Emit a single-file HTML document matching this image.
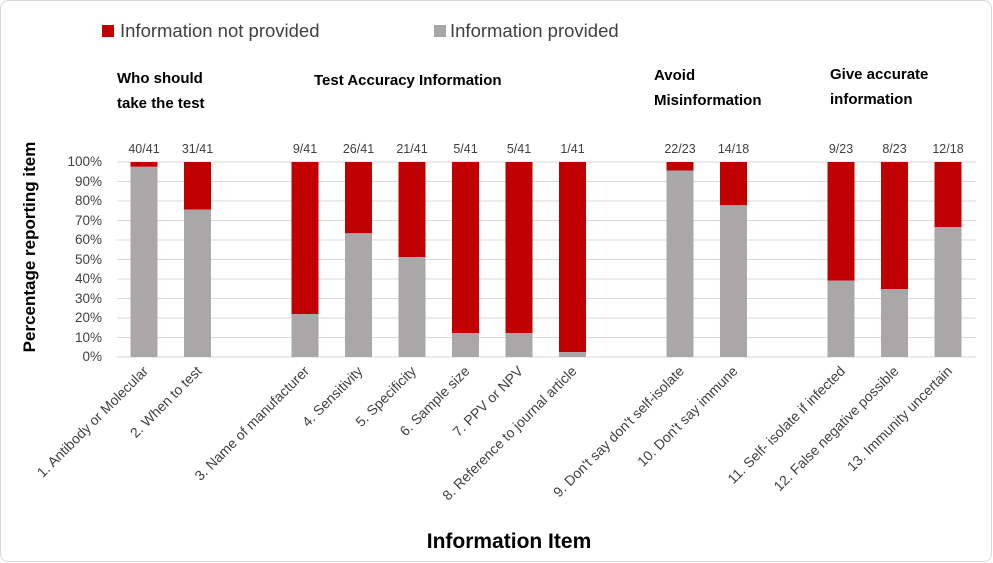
<!DOCTYPE html>
<html><head><meta charset="utf-8"><style>
html,body{margin:0;padding:0;background:#fff}
svg{display:block}
text{font-family:"Liberation Sans",sans-serif}
</style></head><body>
<svg width="993" height="563" viewBox="0 0 993 563" xmlns="http://www.w3.org/2000/svg">
<rect x="0.5" y="0.5" width="991" height="561" rx="8" fill="#fff" stroke="#d9d9d9"/>
<rect x="102" y="25" width="12" height="12" fill="#c00000"/>
<text x="120" y="37" font-size="18.5" fill="#404040">Information not provided</text>
<rect x="434" y="25" width="12" height="12" fill="#a6a6a6"/>
<text x="450" y="37" font-size="18.5" fill="#404040">Information provided</text>
<g font-size="15" font-weight="bold" fill="#000">
<text x="117" y="83">Who should</text><text x="117" y="108">take the test</text>
<text x="314" y="85">Test Accuracy Information</text>
<text x="654" y="80">Avoid</text><text x="654" y="105">Misinformation</text>
<text x="830" y="79">Give accurate</text><text x="830" y="104">information</text>
</g>
<text transform="translate(35,247) rotate(-90)" text-anchor="middle" font-size="17" font-weight="bold" fill="#000">Percentage reporting item</text>
<g stroke="#d9d9d9" stroke-width="1">
<line x1="117" x2="976" y1="162" y2="162"/><line x1="117" x2="976" y1="181.5" y2="181.5"/>
<line x1="117" x2="976" y1="201" y2="201"/><line x1="117" x2="976" y1="220.5" y2="220.5"/>
<line x1="117" x2="976" y1="240" y2="240"/><line x1="117" x2="976" y1="259.5" y2="259.5"/>
<line x1="117" x2="976" y1="279" y2="279"/><line x1="117" x2="976" y1="298.5" y2="298.5"/>
<line x1="117" x2="976" y1="318" y2="318"/><line x1="117" x2="976" y1="337.5" y2="337.5"/>
<line x1="117" x2="976" y1="357" y2="357"/>
</g>
<g font-size="13.5" fill="#404040" text-anchor="end">
<text x="102" y="166">100%</text><text x="102" y="186">90%</text><text x="102" y="205">80%</text>
<text x="102" y="225">70%</text><text x="102" y="244">60%</text><text x="102" y="264">50%</text>
<text x="102" y="283">40%</text><text x="102" y="303">30%</text><text x="102" y="322">20%</text>
<text x="102" y="342">10%</text><text x="102" y="361">0%</text>
</g>
<g fill="#c00000">
<rect x="130.5" y="162" width="27" height="4.8"/>
<rect x="184" y="162" width="27" height="47.6"/>
<rect x="291.5" y="162" width="27" height="152.2"/>
<rect x="345" y="162" width="27" height="71.3"/>
<rect x="398.5" y="162" width="27" height="95.1"/>
<rect x="452" y="162" width="27" height="171.2"/>
<rect x="505.5" y="162" width="27" height="171.2"/>
<rect x="559" y="162" width="27" height="190.2"/>
<rect x="666.5" y="162" width="27" height="8.5"/>
<rect x="720" y="162" width="27" height="43.3"/>
<rect x="827.5" y="162" width="27" height="118.7"/>
<rect x="881" y="162" width="27" height="127.2"/>
<rect x="934.5" y="162" width="27" height="65"/>
</g>
<g fill="#a9a7a7">
<rect x="130.5" y="166.8" width="27" height="190.2"/>
<rect x="184" y="209.6" width="27" height="147.4"/>
<rect x="291.5" y="314.2" width="27" height="42.8"/>
<rect x="345" y="233.3" width="27" height="123.7"/>
<rect x="398.5" y="257.1" width="27" height="99.9"/>
<rect x="452" y="333.2" width="27" height="23.8"/>
<rect x="505.5" y="333.2" width="27" height="23.8"/>
<rect x="559" y="352.2" width="27" height="4.8"/>
<rect x="666.5" y="170.5" width="27" height="186.5"/>
<rect x="720" y="205.3" width="27" height="151.7"/>
<rect x="827.5" y="280.7" width="27" height="76.3"/>
<rect x="881" y="289.2" width="27" height="67.8"/>
<rect x="934.5" y="227" width="27" height="130"/>
</g>
<g font-size="12.5" fill="#404040" text-anchor="middle">
<text x="144" y="153">40/41</text><text x="197.5" y="153">31/41</text>
<text x="305" y="153">9/41</text><text x="358.5" y="153">26/41</text>
<text x="412" y="153">21/41</text><text x="465.5" y="153">5/41</text>
<text x="519" y="153">5/41</text><text x="572.5" y="153">1/41</text>
<text x="680" y="153">22/23</text><text x="733.5" y="153">14/18</text>
<text x="841" y="153">9/23</text><text x="894.5" y="153">8/23</text>
<text x="948" y="153">12/18</text>
</g>
<g font-size="14" fill="#404040" text-anchor="end">
<text transform="translate(149,372) rotate(-45)">1. Antibody or Molecular</text>
<text transform="translate(202.5,372) rotate(-45)">2. When to test</text>
<text transform="translate(310,372) rotate(-45)">3. Name of manufacturer</text>
<text transform="translate(363.5,372) rotate(-45)">4. Sensitivity</text>
<text transform="translate(417,372) rotate(-45)">5. Specificity</text>
<text transform="translate(470.5,372) rotate(-45)">6. Sample size</text>
<text transform="translate(524,372) rotate(-45)">7. PPV or NPV</text>
<text transform="translate(577.5,372) rotate(-45)">8. Reference to journal article</text>
<text transform="translate(685,372) rotate(-45)">9. Don't say don't self-isolate</text>
<text transform="translate(738.5,372) rotate(-45)">10. Don't say immune</text>
<text transform="translate(846,372) rotate(-45)">11. Self- isolate if infected</text>
<text transform="translate(899.5,372) rotate(-45)">12. False negative possible</text>
<text transform="translate(953,372) rotate(-45)">13. Immunity uncertain</text>
</g>
<text x="509" y="548" text-anchor="middle" font-size="21" font-weight="bold" fill="#000">Information Item</text>
</svg>
</body></html>
